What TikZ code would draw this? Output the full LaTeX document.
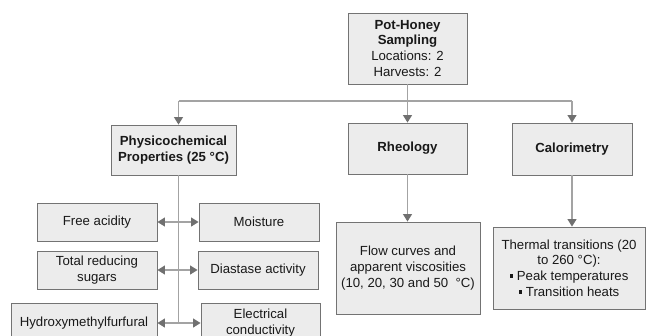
\documentclass[tikz,border=0pt]{standalone}
\usepackage{fontspec}
\setmainfont{Liberation Sans}
\usetikzlibrary{arrows.meta}
\definecolor{boxfill}{HTML}{ECECEC}
\definecolor{boxline}{HTML}{737373}
\definecolor{conn}{HTML}{A3A3A3}
\definecolor{tipc}{HTML}{707070}
\newcommand{\sqb}{\rule[2.6bp]{3.6bp}{3.6bp}}
\tikzset{
  x=1bp, y=-1bp,
  box/.style={draw=boxline, fill=boxfill, line width=0.9bp, inner sep=0pt,
    align=center, text=black!90, font=\fontsize{13.2bp}{15.6bp}\selectfont},
  conline/.style={draw=conn, line width=1.1bp},
  arr/.style={conline, -{Triangle[width=9bp,length=7.5bp,color=tipc]}},
  darr/.style={conline, {Triangle[width=9bp,length=7.5bp,color=tipc]}-{Triangle[width=9bp,length=7.5bp,color=tipc]}}
}
\begin{document}
\begin{tikzpicture}
\useasboundingbox (0,0) rectangle (646,335);
% top box
\node[box, minimum width=119bp, minimum height=71bp] (top) at (407.5,48.5)
  {\textbf{Pot-Honey}\\[-0.5bp]\textbf{Sampling}\\[0.3bp]Locations: 2\\[0.3bp]Harvests: 2};
% level 2
\node[box, minimum width=125bp, minimum height=50bp] (phys) at (173.5,150)
  {\textbf{Physicochemical}\\\textbf{Properties (25 °C)}};
\node[box, minimum width=119bp, minimum height=51bp] (rheo) at (407.5,148.5) {\textbf{Rheology}};
\node[box, minimum width=120bp, minimum height=52bp] (cal) at (572,149) {\textbf{Calorimetry}};
% level 3 right
\node[box, minimum width=144bp, minimum height=92bp] (flow) at (408,268)
  {Flow curves and\\apparent viscosities\\(10, 20, 30 and 50\ \ °C)};
\node[box, minimum width=152bp, minimum height=82bp] (therm) at (569,268)
  {Thermal transitions (20\\to 260 °C):\\\sqb\ Peak temperatures\\\sqb\ Transition heats};
% physicochemical sub-boxes
\node[box, minimum width=120bp, minimum height=38bp] (fa) at (97,222) {Free acidity};
\node[box, minimum width=120bp, minimum height=38bp] (tr) at (97,270) {Total reducing\\sugars};
\node[box, minimum width=146bp, minimum height=40bp] (hy) at (84,323) {Hydroxymethylfurfural};
\node[box, minimum width=120bp, minimum height=38bp] (mo) at (259,222) {Moisture};
\node[box, minimum width=120bp, minimum height=38bp] (di) at (258,270) {Diastase activity};
\node[box, minimum width=119bp, minimum height=40bp] (el) at (260.5,323) {Electrical\\conductivity};
% connectors
\coordinate (busL) at (178.5,101);
\coordinate (busM) at (407.5,101);
\coordinate (busR) at (572,101);
\coordinate (spineT) at (178.5,175);
\coordinate (spineB) at (178.5,323);
\draw[conline] (top.south) -- (busM);
\draw[conline] (busL) -- (busR);
\draw[arr] (busL) -- (busL |- phys.north);
\draw[arr] (busM) -- (rheo.north);
\draw[arr] (busR) -- (cal.north);
\draw[arr] (rheo.south) -- (flow.north -| rheo.south);
\draw[arr] (cal.south) -- (cal.south |- therm.north);
\draw[conline] (spineT) -- (spineB);
\draw[darr] (fa.east) -- (mo.west);
\draw[darr] (tr.east) -- (di.west);
\draw[darr] (hy.east) -- (el.west);
\end{tikzpicture}
\end{document}
